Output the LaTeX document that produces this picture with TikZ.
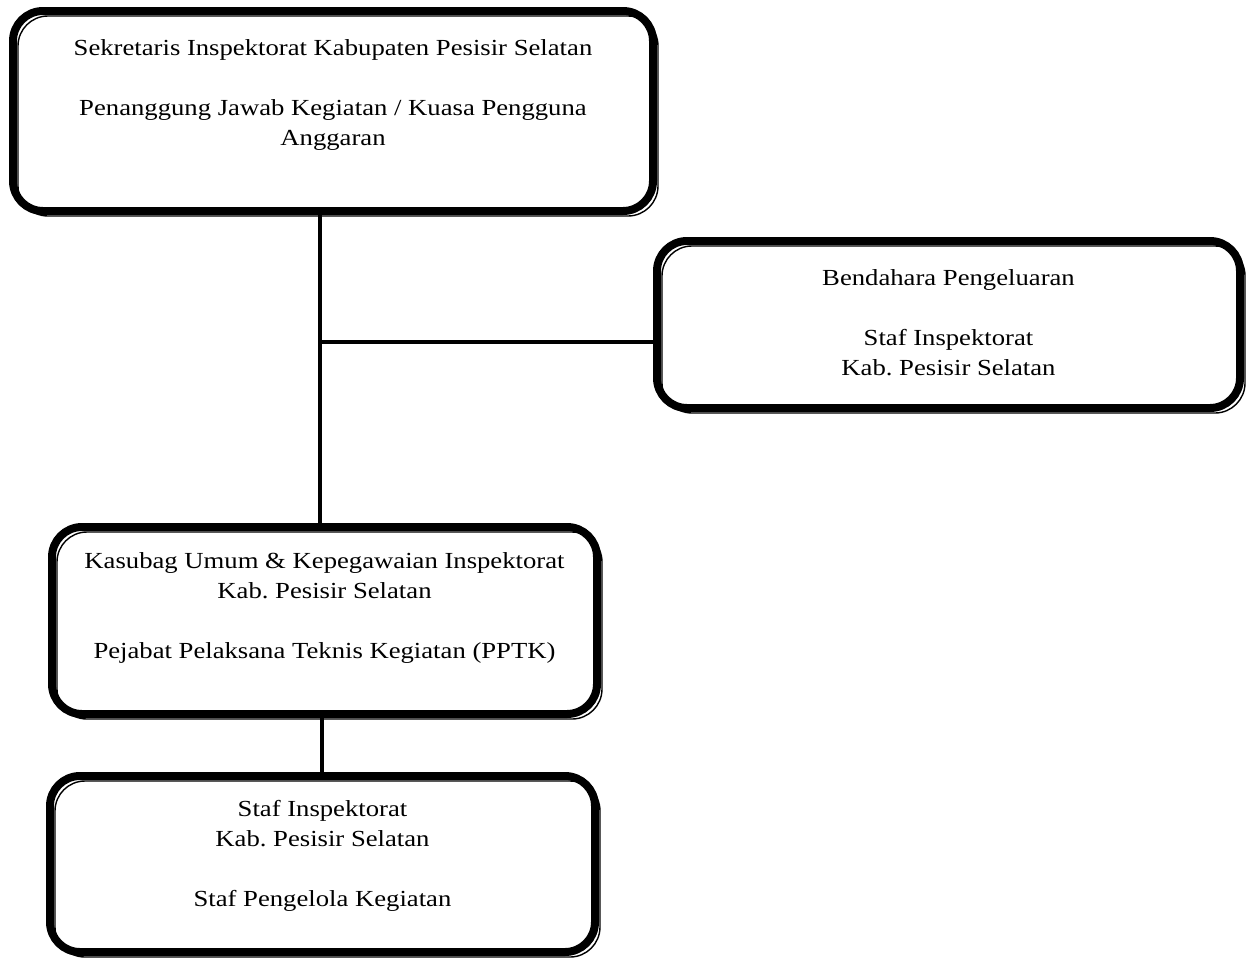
\documentclass[tikz,border=0pt]{standalone}
\usepackage{fontspec}
\setmainfont[FakeStretch=1.16]{Liberation Serif}
\frenchspacing
\begin{document}
\begin{tikzpicture}[x=1pt,y=-1pt,
  box/.style={draw, line width=8pt, rounded corners=30pt, outer sep=0pt, inner sep=0pt},
  shade/.style={draw, line width=1.4pt, rounded corners=30pt},
  conn/.style={draw, line width=3.5pt},
  txt/.style={align=center, inner sep=0pt, font=\fontsize{23}{30}\selectfont}]
\useasboundingbox (0,0) rectangle (1249,962);
% boxes
\node[box, minimum width=640pt, minimum height=200pt] (top) at (333,111) {};
\node[box, minimum width=583pt, minimum height=167pt] (right) at (948.5,324.5) {};
\node[box, minimum width=545pt, minimum height=187pt] (mid) at (324.5,620.5) {};
\node[box, minimum width=545pt, minimum height=176pt] (bot) at (322.5,864) {};
\foreach \n in {top,right,mid,bot}
  \draw[shade] ([shift={(5,5)}]\n.south west) rectangle ([shift={(5,5)}]\n.north east);
% texts
\node[txt] (toptext) at (333,95) {Sekretaris Inspektorat Kabupaten Pesisir Selatan\\[30pt]Penanggung Jawab Kegiatan / Kuasa Pengguna\\Anggaran};
\node[txt] (righttext) at (948.5,322.5) {Bendahara Pengeluaran\\[30pt]Staf Inspektorat\\Kab. Pesisir Selatan};
\node[txt] (midtext) at (324.5,608) {Kasubag Umum \& Kepegawaian Inspektorat\\Kab. Pesisir Selatan\\[30pt]Pejabat Pelaksana Teknis Kegiatan (PPTK)};
\node[txt] (bottext) at (322.5,856) {Staf Inspektorat\\Kab. Pesisir Selatan\\[30pt]Staf Pengelola Kegiatan};
% connectors
\coordinate (j) at (320,342);
\coordinate (k) at (322,0);
\draw[conn] (top.south -| j) -- (mid.north -| j);
\draw[conn] (j) -- (j -| right.west);
\draw[conn, line width=4pt] (mid.south -| k) -- (bot.north -| k);
\end{tikzpicture}
\end{document}
